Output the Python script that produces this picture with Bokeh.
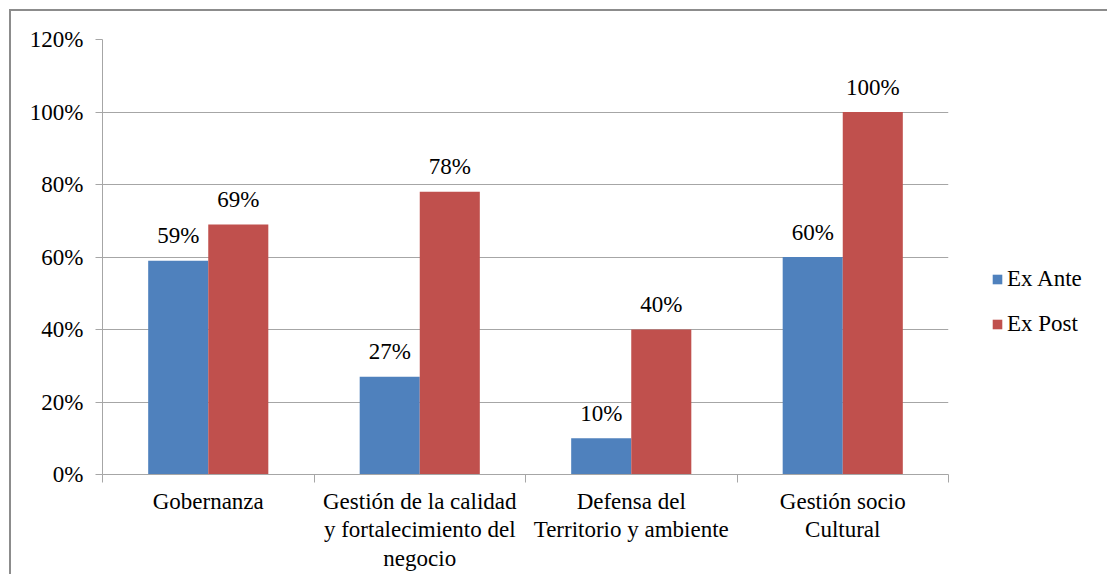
from bokeh.plotting import figure
from bokeh.models import ColumnDataSource, FixedTicker, Range1d, Legend, LegendItem
from bokeh.core.properties import value
from bokeh.embed import file_html
from bokeh.resources import INLINE

categories = ["Gobernanza", "Gestión de la calidad\ny fortalecimiento del\nnegocio",
              "Defensa del\nTerritorio y ambiente", "Gestión socio\nCultural"]
ex_ante = [59, 27, 10, 60]
ex_post = [69, 78, 40, 100]
series_names = ["Ex Ante", "Ex Post"]
y_ticks = [0, 20, 40, 60, 80, 100, 120]

FONT = "'Liberation Serif', 'Times New Roman', serif"
FS = "23px"
BLUE = "#4F81BD"
RED = "#C0504D"
GRID = "#a6a6a6"

n = len(categories)
centers = [i + 0.5 for i in range(n)]
off = 0.142
bw = 0.284

src_a = ColumnDataSource(dict(x=[c - off for c in centers], top=ex_ante,
                              lab=[f"{v}%" for v in ex_ante]))
src_p = ColumnDataSource(dict(x=[c + off for c in centers], top=ex_post,
                              lab=[f"{v}%" for v in ex_post]))

p = figure(frame_width=846, frame_height=435, output_backend="svg", toolbar_location=None,
           x_range=Range1d(0, n), y_range=Range1d(0, 120),
           min_border_left=91, min_border_right=150, min_border_top=28, min_border_bottom=100)
p.styles = {"margin-left": "9px", "margin-top": "9px",
            "border-left": "2px solid #8c8c8c", "border-top": "2px solid #8c8c8c"}
p.outline_line_color = None
p.background_fill_color = "white"
p.border_fill_color = "white"

ra = p.vbar(x="x", top="top", width=bw, source=src_a, color=BLUE, line_color=None)
rp = p.vbar(x="x", top="top", width=bw, source=src_p, color=RED, line_color=None)

for s in (src_a, src_p):
    p.text(x="x", y="top", text="lab", source=s, text_align="center", text_baseline="alphabetic",
           y_offset=-25, text_font=value(FONT), text_font_size=FS, text_color="#000000")

# x axis
xa = p.xaxis[0]
xa.ticker = FixedTicker(ticks=centers, minor_ticks=list(range(n + 1)))
xa.major_label_overrides = {c: lab for c, lab in zip(centers, categories)}
xa.major_tick_line_color = None
xa.minor_tick_line_color = GRID
xa.minor_tick_out = 8
xa.minor_tick_in = 0
xa.axis_line_color = GRID
xa.major_label_standoff = 6
xa.major_label_text_font = FONT
xa.major_label_text_font_size = FS
xa.major_label_text_color = "#000000"
xa.major_label_text_line_height = 1.15

# y axis
ya = p.yaxis[0]
ya.ticker = FixedTicker(ticks=y_ticks)
ya.major_label_overrides = {t: f"{t}%" for t in y_ticks}
ya.minor_tick_line_color = None
ya.major_tick_line_color = GRID
ya.major_tick_out = 7
ya.major_tick_in = 0
ya.axis_line_color = GRID
ya.major_label_standoff = 12
ya.major_label_text_font = FONT
ya.major_label_text_font_size = FS
ya.major_label_text_color = "#000000"

p.xgrid.grid_line_color = None
p.ygrid.grid_line_color = GRID
p.ygrid.ticker = FixedTicker(ticks=y_ticks)

legend = Legend(items=[LegendItem(label=series_names[0], renderers=[ra]),
                       LegendItem(label=series_names[1], renderers=[rp])],
                location=(43, 137), orientation="vertical")
legend.border_line_color = None
legend.background_fill_alpha = 0
legend.glyph_width = 12
legend.glyph_height = 12
legend.label_height = 23
legend.label_text_font = FONT
legend.label_text_font_size = FS
legend.label_text_color = "#000000"
legend.label_standoff = 4
legend.spacing = 19
legend.padding = 0
legend.margin = 0
p.add_layout(legend, "right")

open("out.html", "w").write(file_html(p, INLINE))
